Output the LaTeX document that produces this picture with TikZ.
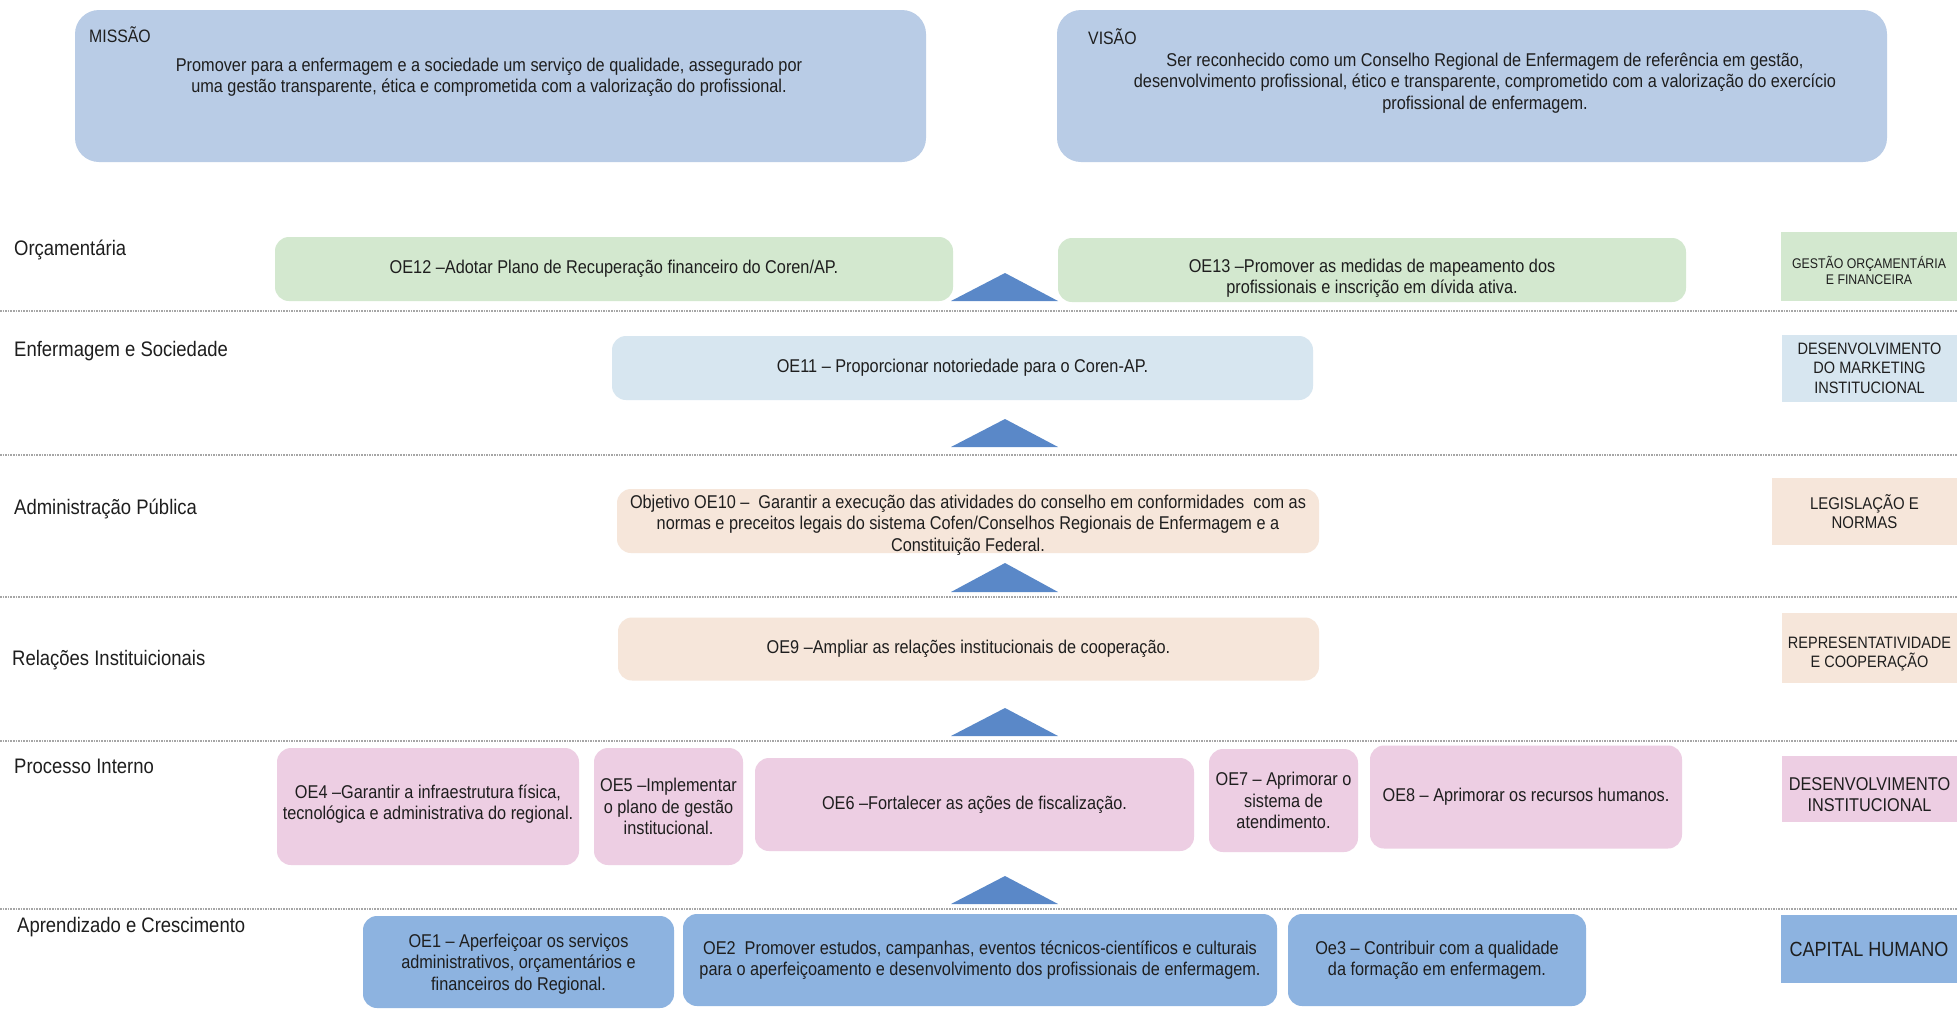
\documentclass[tikz,border=0pt]{standalone}
\usepackage{fontspec}
\setmainfont{Liberation Sans}[FakeStretch=0.88]
\definecolor{cMV}{HTML}{B9CCE6}
\definecolor{cGreen}{HTML}{D3E8CF}
\definecolor{cLBlue}{HTML}{D7E6F0}
\definecolor{cPeach}{HTML}{F6E6DA}
\definecolor{cPink}{HTML}{EDCEE3}
\definecolor{cBlue}{HTML}{8DB3E0}
\definecolor{cTri}{HTML}{5A88C8}
\definecolor{cLine}{HTML}{A6A6A6}
\definecolor{cText}{HTML}{1E1E1E}
\newcommand\fsz[2]{\fontsize{#1}{#2}\selectfont}
\begin{document}
\begin{tikzpicture}[x=1pt,y=-1pt,
  every node/.style={text=cText},
  box/.style={rounded corners=14pt, align=center, inner sep=0pt, font=\fsz{18.5}{21.3}},
  bigbox/.style={rounded corners=24pt, inner sep=0pt},
  sidebox/.style={align=center, inner sep=0pt},
  txt/.style={align=center, inner sep=0pt, font=\fsz{18.5}{21.3}},
  rowlabel/.style={anchor=west, inner sep=0pt, font=\fsz{21}{25}},
  sep/.style={cLine, line width=1.6pt, densely dotted},
  tri/.style={fill=cTri, draw=none}]
\useasboundingbox (0,0) rectangle (1957,1015);
\fill[white] (0,0) rectangle (1957,1015);

% Mission / Vision
\node[bigbox, fill=cMV, minimum width=851pt, minimum height=152pt] (missao) at (500.5,86) {};
\node[anchor=west, inner sep=0pt, font=\fsz{18}{21}] (missaolbl) at (89,35) {MISSÃO};
\node[txt] (missaotxt) at (489,77.5) {Promover para a enfermagem e a sociedade um serviço de qualidade, assegurado por\\uma gestão transparente, ética e comprometida com a valorização do profissional.};
\node[bigbox, fill=cMV, minimum width=830pt, minimum height=152pt] (visao) at (1472,86) {};
\node[anchor=west, inner sep=0pt, font=\fsz{18}{21}] (visaolbl) at (1088,37) {VISÃO};
\node[txt] (visaotxt) at (1485,83) {Ser reconhecido como um Conselho Regional de Enfermagem de referência em gestão,\\desenvolvimento profissional, ético e transparente, comprometido com a valorização do exercício\\profissional de enfermagem.};

% separators
\draw[sep] (0,311) -- (1957,311);
\draw[sep] (0,455) -- (1957,455);
\draw[sep] (0,597) -- (1957,597);
\draw[sep] (0,741) -- (1957,741);
\draw[sep] (0,909) -- (1957,909);

% row labels
\node[rowlabel] (r1) at (14,250) {Orçamentária};
\node[rowlabel] (r2) at (14,351) {Enfermagem e Sociedade};
\node[rowlabel] (r3) at (14,509) {Administração Pública};
\node[rowlabel] (r4) at (12,660) {Relações Instituicionais};
\node[rowlabel] (r5) at (14,766) {Processo Interno};
\node[rowlabel] (r6) at (17,927) {Aprendizado e Crescimento};

% triangles
\fill[tri] (951,301) -- (1005,273) -- (1058,301) -- cycle;
\fill[tri] (951,447) -- (1005,419) -- (1058,447) -- cycle;
\fill[tri] (951,592) -- (1005,563) -- (1058,592) -- cycle;
\fill[tri] (951,736) -- (1005,708) -- (1058,736) -- cycle;
\fill[tri] (951,904) -- (1005,876) -- (1058,904) -- cycle;

% Orçamentária row
\node[box, fill=cGreen, minimum width=678pt, minimum height=64pt] (oe12) at (614,269) {OE12 –Adotar Plano de Recuperação financeiro do Coren/AP.};
\node[box, fill=cGreen, minimum width=628pt, minimum height=64pt, text depth=0pt] (oe13b) at (1372,270) {};
\node[txt] (oe13) at (1372,278) {OE13 –Promover as medidas de mapeamento dos\\profissionais e inscrição em dívida ativa.};
\node[sidebox, fill=cGreen, minimum width=176pt, minimum height=69pt] (s1) at (1869,266.5) {};
\node[txt, font=\fsz{14}{16.5}] (s1t) at (1869,270.5) {GESTÃO ORÇAMENTÁRIA\\E FINANCEIRA};

% Enfermagem e Sociedade
\node[box, fill=cLBlue, minimum width=701pt, minimum height=64pt] (oe11) at (962.5,368) {OE11 – Proporcionar notoriedade para o Coren-AP.};
\node[sidebox, fill=cLBlue, minimum width=175pt, minimum height=67pt, font=\fsz{16.5}{19.5}] (s2) at (1869.5,368) {DESENVOLVIMENTO\\DO MARKETING\\INSTITUCIONAL};

% Administração Pública
\node[box, fill=cPeach, minimum width=702pt, minimum height=64pt] (oe10b) at (968,521) {};
\node[txt] (oe10) at (968,525) {Objetivo OE10 –\ \ Garantir a execução das atividades do conselho em conformidades\ \ com as\\normas e preceitos legais do sistema Cofen/Conselhos Regionais de Enfermagem e a\\Constituição Federal.};
\node[sidebox, fill=cPeach, minimum width=185pt, minimum height=67pt, font=\fsz{17}{19.5}] (s3) at (1864.5,511.5) {LEGISLAÇÃO E\\NORMAS};

% Relações Institucionais
\node[box, fill=cPeach, minimum width=701pt, minimum height=63pt] (oe9) at (968.5,649) {OE9 –Ampliar as relações institucionais de cooperação.};
\node[sidebox, fill=cPeach, minimum width=175pt, minimum height=70pt] (s4) at (1869.5,648) {};
\node[txt, font=\fsz{16.5}{19.5}] (s4t) at (1869.5,654) {REPRESENTATIVIDADE\\E COOPERAÇÃO};

% Processo Interno
\node[box, fill=cPink, minimum width=302pt, minimum height=117pt] (oe4b) at (428,806.5) {};
\node[txt] (oe4) at (428,804) {OE4 –Garantir a infraestrutura física,\\tecnológica e administrativa do regional.};
\node[box, fill=cPink, minimum width=149pt, minimum height=117pt] (oe5) at (668.5,806.5) {OE5 –Implementar\\o plano de gestão\\institucional.};
\node[box, fill=cPink, minimum width=439pt, minimum height=93pt] (oe6) at (974.5,804.5) {OE6 –Fortalecer as ações de fiscalização.};
\node[box, fill=cPink, minimum width=149pt, minimum height=103pt] (oe7) at (1283.5,800.5) {OE7 –\ Aprimorar o\\sistema de\\atendimento.};
\node[box, fill=cPink, minimum width=312pt, minimum height=103pt] (oe8) at (1526,797) {OE8 – Aprimorar os recursos humanos.};
\node[sidebox, fill=cPink, minimum width=175pt, minimum height=66pt] (s5) at (1869.5,789) {};
\node[txt, font=\fsz{18.5}{21}] (s5t) at (1869.5,795) {DESENVOLVIMENTO\\INSTITUCIONAL};

% Aprendizado e Crescimento
\node[box, fill=cBlue, minimum width=311pt, minimum height=92pt] (oe1b) at (518.5,962) {};
\node[txt] (oe1) at (518.5,964) {OE1 – Aperfeiçoar os serviços\\administrativos, orçamentários e\\financeiros do Regional.};
\node[box, fill=cBlue, minimum width=594pt, minimum height=92pt] (oe2) at (980,960) {OE2\ \ Promover estudos, campanhas, eventos técnicos-científicos e culturais\\para o aperfeiçoamento e desenvolvimento dos profissionais de enfermagem.};
\node[box, fill=cBlue, minimum width=298pt, minimum height=92pt] (oe3) at (1437,960) {Oe3 – Contribuir com a qualidade\\da formação em enfermagem.};
\node[sidebox, fill=cBlue, minimum width=176pt, minimum height=68pt, font=\fsz{20.5}{23}] (s6) at (1869,949) {CAPITAL HUMANO};
\end{tikzpicture}
\end{document}
